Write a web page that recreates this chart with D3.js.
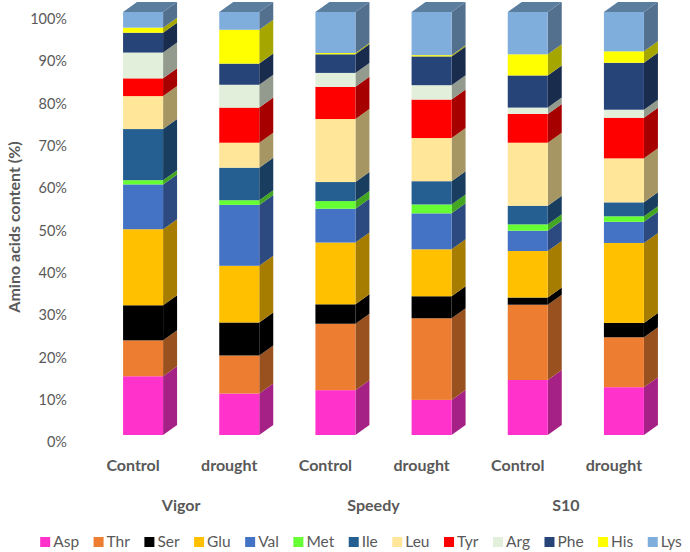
<!DOCTYPE html>
<html>
<head>
<meta charset="utf-8">
<script src="https://cdn.jsdelivr.net/npm/d3@7"></script>
<style>
  html, body { margin: 0; padding: 0; background: #ffffff; }
  svg { display: block; font-family: Lato, "Open Sans", sans-serif; }
</style>
</head>
<body>
<svg id="chart" width="690" height="552"></svg>
<script>
// ---------- data ----------
const categories = ["Control", "drought", "Control", "drought", "Control", "drought"];
const groups = ["Vigor", "Speedy", "S10"];
const aminoAcids = ["Asp", "Thr", "Ser", "Glu", "Val", "Met", "Ile", "Leu", "Tyr", "Arg", "Phe", "His", "Lys"];
const aminoColors = ["#FF33CC", "#ED7D31", "#000000", "#FFC000", "#4472C4", "#66FF33", "#255E91", "#FFE699", "#FF0000", "#E2EFDA", "#264478", "#FFFF00", "#7FAEDC"];

const Asp = [13.9, 9.8, 10.6, 8.3, 13.0, 11.3];
const Thr = [8.5, 9.0, 15.7, 19.3, 17.8, 11.8];
const Ser = [8.3, 7.8, 4.6, 5.2, 1.7, 3.4];
const Glu = [18.0, 13.4, 14.6, 11.1, 11.0, 18.9];
const Val = [10.6, 14.4, 8.0, 8.5, 4.8, 5.0];
const Met = [1.0, 1.1, 1.8, 2.1, 1.5, 1.3];
const Ile = [12.1, 7.7, 4.5, 5.5, 4.4, 3.3];
const Leu = [7.8, 5.9, 14.9, 10.2, 14.9, 10.4];
const Tyr = [4.2, 8.3, 7.6, 9.1, 6.8, 9.6];
const Arg = [6.1, 5.4, 3.3, 3.4, 1.5, 1.9];
const Phe = [4.7, 5.0, 4.4, 6.8, 7.6, 11.1];
const His = [1.2, 8.0, 0.3, 0.3, 5.0, 2.7];
const Lys = [3.7, 4.2, 9.7, 10.2, 10.0, 9.3];

const yTicks = [0, 10, 20, 30, 40, 50, 60, 70, 80, 90, 100];
const yTitle = "Amino acids content (%)";

// ---------- build table ----------
const seriesValues = [Asp, Thr, Ser, Glu, Val, Met, Ile, Leu, Tyr, Arg, Phe, His, Lys];
const rows = categories.map((c, i) => {
  const r = { idx: i, cat: c, group: groups[Math.floor(i / 2)] };
  aminoAcids.forEach((a, k) => { r[a] = seriesValues[k][i]; });
  return r;
});
const stacked = d3.stack().keys(aminoAcids).offset(d3.stackOffsetExpand)(rows);

// ---------- layout ----------
const svg = d3.select("#chart");
const textColor = "#595959";
const depthX = 14, depthY = 10;      // 3-D depth offset
const planeDX = -10, planeDY = 7;    // offset of the front (axis) plane

const x = d3.scaleBand()
  .domain(d3.range(categories.length))
  .range([95, 672])
  .paddingInner(0.584)
  .paddingOuter(0.292);

const y = d3.scaleLinear().domain([0, 1]).range([435, 12]);
const yAxisScale = d3.scaleLinear().domain([0, 100]).range([435 + planeDY, 12 + planeDY]);

const color = d3.scaleOrdinal().domain(aminoAcids).range(aminoColors);
const shade = (c, f) => { const r = d3.rgb(c); return d3.rgb(r.r * f, r.g * f, r.b * f).formatHex(); };

// ---------- y axis ----------
const yAxis = d3.axisLeft(yAxisScale)
  .tickValues(yTicks)
  .tickFormat(d => d + "%")
  .tickSize(0)
  .tickPadding(0);
const gy = svg.append("g").attr("transform", "translate(67,0)").call(yAxis);
gy.select(".domain").remove();
gy.selectAll("text")
  .attr("fill", textColor)
  .style("font-size", "14.5px")
  .style("font-family", "Lato, 'Open Sans', sans-serif");

svg.append("text")
  .attr("transform", "translate(20,227) rotate(-90)")
  .attr("text-anchor", "middle")
  .attr("fill", textColor)
  .style("font-size", "16px")
  .style("font-weight", "bold")
  .text(yTitle);

// ---------- 3-D stacked bars ----------
const bw = x.bandwidth();
const barsG = svg.append("g");
stacked.forEach(layer => {
  const key = layer.key;
  const base = color(key);
  const g = barsG.append("g");
  layer.forEach((d, i) => {
    const x0 = x(i), x1 = x0 + bw;
    const yTop = y(d[1]), yBot = y(d[0]);
    if (yBot - yTop <= 0) return;
    // side face
    g.append("polygon")
      .attr("points", [[x1, yTop], [x1 + depthX, yTop - depthY], [x1 + depthX, yBot - depthY], [x1, yBot]].map(p => p.join(",")).join(" "))
      .attr("fill", shade(base, 0.65));
    // front face
    g.append("rect")
      .attr("x", x0).attr("y", yTop)
      .attr("width", bw).attr("height", yBot - yTop)
      .attr("fill", base);
  });
});
// top faces (top segment of each bar)
const topLayer = stacked[stacked.length - 1];
topLayer.forEach((d, i) => {
  const x0 = x(i), x1 = x0 + bw, yTop = y(d[1]);
  barsG.append("polygon")
    .attr("points", [[x0, yTop], [x0 + depthX, yTop - depthY], [x1 + depthX, yTop - depthY], [x1, yTop]].map(p => p.join(",")).join(" "))
    .attr("fill", shade(color(topLayer.key), 0.72));
});

// ---------- x category labels ----------
svg.append("g").selectAll("text")
  .data(categories)
  .join("text")
  .attr("x", (d, i) => x(i) + bw / 2 + planeDX)
  .attr("y", 471)
  .attr("text-anchor", "middle")
  .attr("fill", textColor)
  .style("font-size", "16px")
  .style("font-weight", "bold")
  .text(d => d);

svg.append("g").selectAll("text")
  .data(groups)
  .join("text")
  .attr("x", (d, g) => (x(2 * g) + x(2 * g + 1)) / 2 + bw / 2 + planeDX)
  .attr("y", 511)
  .attr("text-anchor", "middle")
  .attr("fill", textColor)
  .style("font-size", "16px")
  .style("font-weight", "bold")
  .text(d => d);

// ---------- legend ----------
const legend = svg.append("g");
const items = legend.selectAll("g")
  .data(aminoAcids)
  .join("g");
items.append("rect")
  .attr("width", 10).attr("height", 10)
  .attr("y", -10)
  .attr("fill", d => color(d));
items.append("text")
  .attr("x", 13)
  .attr("y", 0)
  .attr("fill", textColor)
  .style("font-size", "15.5px")
  .text(d => d);
let cursor = 0;
const gap = 14.5;
items.each(function () {
  const w = this.querySelector("text").getComputedTextLength() + 13;
  d3.select(this).attr("transform", `translate(${cursor},0)`);
  cursor += w + gap;
});
const total = cursor - gap;
legend.attr("transform", `translate(${361 - total / 2},547)`);
</script>
</body>
</html>
